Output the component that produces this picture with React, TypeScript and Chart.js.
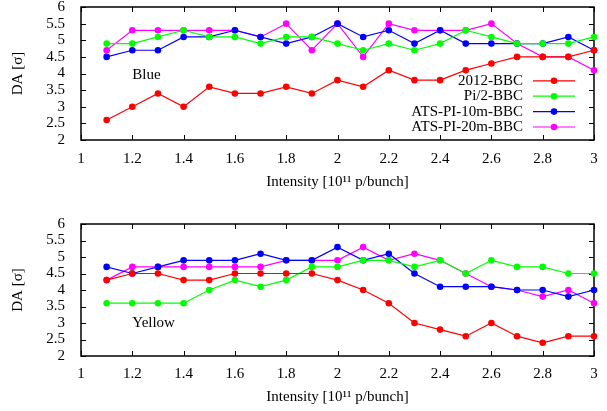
import React, { useEffect, useRef } from "react";
import { Chart, registerables } from "chart.js";

Chart.register(...registerables);

// ---- data ----
const intensity = [1.1, 1.2, 1.3, 1.4, 1.5, 1.6, 1.7, 1.8, 1.9, 2.0, 2.1, 2.2, 2.3, 2.4, 2.5, 2.6, 2.7, 2.8, 2.9, 3.0];

const seriesNames = ["2012-BBC", "Pi/2-BBC", "ATS-PI-10m-BBC", "ATS-PI-20m-BBC"];
const seriesColors = ["#ff0000", "#00ff00", "#0000ff", "#ff00ff"];

// Blue ring
const blue2012 = [2.6, 3.0, 3.4, 3.0, 3.6, 3.4, 3.4, 3.6, 3.4, 3.8, 3.6, 4.1, 3.8, 3.8, 4.1, 4.3, 4.5, 4.5, 4.5, 4.7];
const bluePi2 = [4.9, 4.9, 5.1, 5.3, 5.1, 5.1, 4.9, 5.1, 5.1, 4.9, 4.7, 4.9, 4.7, 4.9, 5.3, 5.1, 4.9, 4.9, 4.9, 5.1];
const blueAts10 = [4.5, 4.7, 4.7, 5.1, 5.1, 5.3, 5.1, 4.9, 5.1, 5.5, 5.1, 5.3, 4.9, 5.3, 4.9, 4.9, 4.9, 4.9, 5.1, 4.7];
const blueAts20 = [4.7, 5.3, 5.3, 5.3, 5.3, 5.3, 5.1, 5.5, 4.7, 5.5, 4.5, 5.5, 5.3, 5.3, 5.3, 5.5, 4.9, 4.5, 4.5, 4.1];

// Yellow ring
const yellow2012 = [4.3, 4.5, 4.5, 4.3, 4.3, 4.5, 4.5, 4.5, 4.5, 4.3, 4.0, 3.6, 3.0, 2.8, 2.6, 3.0, 2.6, 2.4, 2.6, 2.6];
const yellowPi2 = [3.6, 3.6, 3.6, 3.6, 4.0, 4.3, 4.1, 4.3, 4.7, 4.7, 4.9, 4.9, 4.7, 4.9, 4.5, 4.9, 4.7, 4.7, 4.5, 4.5];
const yellowAts10 = [4.7, 4.5, 4.7, 4.9, 4.9, 4.9, 5.1, 4.9, 4.9, 5.3, 4.9, 5.1, 4.5, 4.1, 4.1, 4.1, 4.0, 4.0, 3.8, 4.0];
const yellowAts20 = [4.3, 4.7, 4.7, 4.7, 4.7, 4.7, 4.7, 4.9, 4.9, 4.9, 5.3, 4.9, 5.1, 4.9, 4.5, 4.1, 4.0, 3.8, 4.0, 3.6];

const xMin = 1;
const xMax = 3;
const xStep = 0.2;
const yMin = 2;
const yMax = 6;
const yStep = 0.5;

const xTitle = "Intensity [10\u00b9\u00b9 p/bunch]";
const yTitle = "DA [\u03c3]";

const FONT_FAMILY = "'Liberation Serif', 'DejaVu Serif', serif";
const FONT_SIZE = 15;

const fmt = (v: number) => String(Number(Number(v).toFixed(2)));

type Panel = {
  label: string;
  labelX: number;
  labelY: number;
  series: number[][];
  showLegend: boolean;
  height: number;
  padTop: number;
  xAxisHeight: number;
  tickPad: number;
  titlePadBottom: number;
};

function makeChart(canvas: HTMLCanvasElement, p: Panel) {
  const font = { family: FONT_FAMILY, size: FONT_SIZE };

  const framePlugin = {
    id: "frame",
    beforeDatasetsDraw(chart: any) {
      const { ctx, chartArea: a, scales } = chart;
      ctx.save();
      ctx.strokeStyle = "#000";
      ctx.lineWidth = 1.5;
      ctx.strokeRect(a.left, a.top, a.right - a.left, a.bottom - a.top);
      ctx.lineWidth = 1;
      const tl = 5;
      ctx.beginPath();
      for (const t of scales.y.ticks) {
        const py = Math.round(scales.y.getPixelForValue(t.value)) + 0.5;
        ctx.moveTo(a.left, py);
        ctx.lineTo(a.left + tl, py);
        ctx.moveTo(a.right, py);
        ctx.lineTo(a.right - tl, py);
      }
      for (const t of scales.x.ticks) {
        const px = Math.round(scales.x.getPixelForValue(t.value)) + 0.5;
        ctx.moveTo(px, a.bottom);
        ctx.lineTo(px, a.bottom - tl);
        ctx.moveTo(px, a.top);
        ctx.lineTo(px, a.top + tl);
      }
      ctx.stroke();
      ctx.restore();
    },
    afterDatasetsDraw(chart: any) {
      const { ctx, chartArea: a, scales } = chart;
      ctx.save();
      ctx.font = `${FONT_SIZE}px ${FONT_FAMILY}`;
      ctx.fillStyle = "#000";
      ctx.textAlign = "left";
      ctx.textBaseline = "middle";
      ctx.fillText(p.label, scales.x.getPixelForValue(p.labelX), scales.y.getPixelForValue(p.labelY));
      if (p.showLegend) {
        const rowH = 15.4;
        const n = seriesNames.length;
        for (let i = 0; i < n; i++) {
          const y = a.bottom - 13 - (n - 1 - i) * rowH;
          ctx.fillStyle = "#000";
          ctx.textAlign = "right";
          ctx.fillText(seriesNames[i], a.right - 71, y);
          ctx.strokeStyle = seriesColors[i];
          ctx.lineWidth = 1.2;
          ctx.beginPath();
          ctx.moveTo(a.right - 61, y);
          ctx.lineTo(a.right - 19, y);
          ctx.stroke();
          ctx.fillStyle = seriesColors[i];
          ctx.beginPath();
          ctx.arc(a.right - 40, y, 3.3, 0, Math.PI * 2);
          ctx.fill();
        }
      }
      ctx.restore();
    },
  };

  return new Chart(canvas, {
    type: "line",
    data: {
      datasets: p.series.map((vals, i) => ({
        label: seriesNames[i],
        data: vals.map((v, j) => ({ x: intensity[j], y: v })),
        borderColor: seriesColors[i],
        backgroundColor: seriesColors[i],
        pointBackgroundColor: seriesColors[i],
        pointBorderWidth: 0,
        pointRadius: 3.3,
        borderWidth: 1.2,
        tension: 0,
        clip: false as any,
      })),
    },
    options: {
      animation: false,
      responsive: false,
      maintainAspectRatio: false,
      layout: { padding: { top: p.padTop, right: 13, left: 0, bottom: 0 } },
      plugins: { legend: { display: false }, tooltip: { enabled: false } },
      scales: {
        x: {
          type: "linear",
          min: xMin,
          max: xMax,
          ticks: {
            stepSize: xStep,
            padding: p.tickPad,
            font,
            color: "#000",
            maxRotation: 0,
            autoSkip: false,
            callback: (v: any) => fmt(v),
          },
          grid: { display: false },
          border: { display: false },
          title: {
            display: true,
            text: xTitle,
            font,
            color: "#000",
            padding: { top: 0, bottom: p.titlePadBottom },
          },
          afterFit(s: any) {
            s.height = p.xAxisHeight;
            s.paddingLeft = 0;
            s.paddingRight = 0;
          },
        },
        y: {
          type: "linear",
          min: yMin,
          max: yMax,
          ticks: {
            stepSize: yStep,
            padding: 8,
            font,
            color: "#000",
            autoSkip: false,
            callback: (v: any) => fmt(v),
          },
          grid: { display: false },
          border: { display: false },
          title: {
            display: true,
            text: yTitle,
            font,
            color: "#000",
            padding: { top: 9.3, bottom: 0 },
          },
          afterFit(s: any) {
            s.width = 81;
            s.paddingTop = 0;
            s.paddingBottom = 0;
          },
        },
      },
    } as any,
    plugins: [framePlugin],
  });
}

const panels: Panel[] = [
  {
    label: "Blue",
    labelX: 1.2,
    labelY: 3.95,
    series: [blue2012, bluePi2, blueAts10, blueAts20],
    showLegend: true,
    height: 200,
    padTop: 7,
    xAxisHeight: 60,
    tickPad: 2,
    titlePadBottom: 9.3,
  },
  {
    label: "Yellow",
    labelX: 1.2,
    labelY: 3.0,
    series: [yellow2012, yellowPi2, yellowAts10, yellowAts20],
    showLegend: false,
    height: 211,
    padTop: 24,
    xAxisHeight: 55,
    tickPad: 0.7,
    titlePadBottom: 5.3,
  },
];

function Panel({ panel }: { panel: Panel }) {
  const ref = useRef<HTMLCanvasElement | null>(null);
  useEffect(() => {
    if (!ref.current) return;
    const c = makeChart(ref.current, panel);
    return () => c.destroy();
  }, [panel]);
  return <canvas ref={ref} width={607} height={panel.height} style={{ display: "block" }} />;
}

export default function App() {
  return (
    <div style={{ position: "absolute", left: 0, top: 0, width: 607, height: 411, background: "#fff" }}>
      {panels.map((p, i) => (
        <Panel key={i} panel={p} />
      ))}
    </div>
  );
}
